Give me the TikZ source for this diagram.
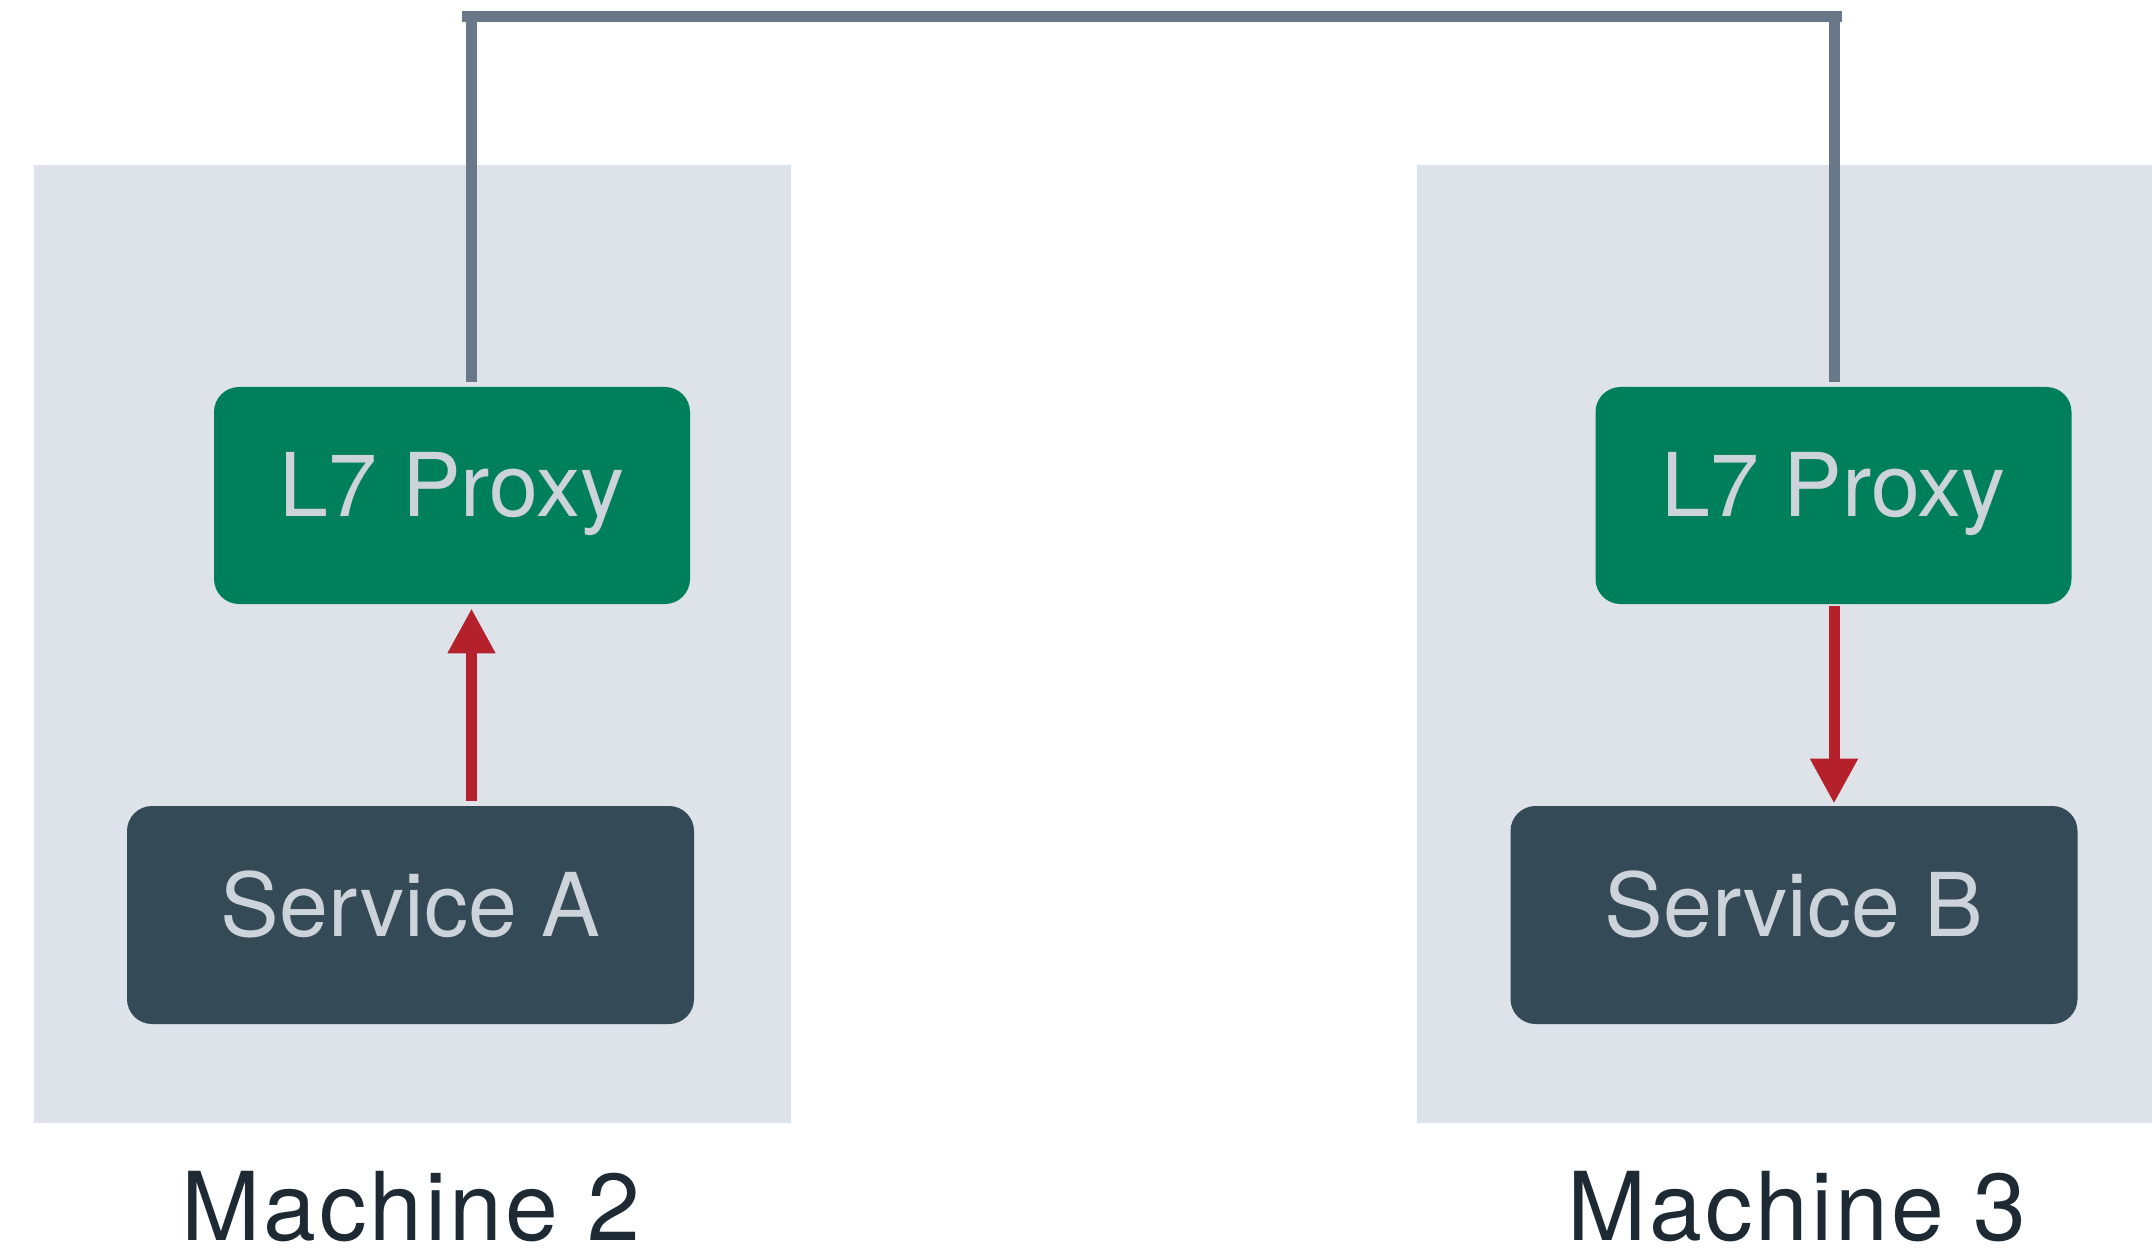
\documentclass[tikz,border=0pt]{standalone}
\usepackage{fontspec}
\setmainfont{TeX Gyre Heros}
\usetikzlibrary{arrows.meta}

\definecolor{machinebg}{HTML}{DEE3EA}
\definecolor{proxygreen}{HTML}{007F5B}
\definecolor{servicedark}{HTML}{344A56}
\definecolor{boxtext}{HTML}{CDD3DA}
\definecolor{linkgray}{HTML}{687888}
\definecolor{flowred}{HTML}{B5212A}
\definecolor{labeldark}{HTML}{1E2A33}

\tikzset{
  machine/.style={fill=machinebg, draw=none},
  boxbase/.style={rounded corners=12.5pt, inner sep=0pt, text=boxtext,
    font=\fontsize{44}{52}\selectfont, text height=31.5pt, text depth=10.5pt,
    align=center},
  proxybox/.style={boxbase, fill=proxygreen, minimum width=238pt, minimum height=108.5pt},
  servicebox/.style={boxbase, fill=servicedark, minimum width=283.5pt, minimum height=109pt},
  machinelabel/.style={anchor=base, inner sep=0pt, text=labeldark,
    font=\fontsize{47.5}{56}\selectfont\addfontfeatures{LetterSpace=3}},
  link/.style={draw=linkgray, line width=5.5pt},
  flow/.style={draw=flowred, line width=5.5pt,
    -{Triangle[width=22.5pt,length=22.5pt]}}
}

\begin{document}
\begin{tikzpicture}[x=0.5pt, y=-0.5pt]
  \useasboundingbox (0,0) rectangle (2152,1251);

  % machine areas
  \fill[machine] (34,165) rectangle (791,1123);
  \fill[machine] (1417,165) rectangle (2152,1123);

  % proxies and services
  \node[proxybox]   (pl) at (452,495.5)   {L7 Proxy};
  \node[proxybox]   (pr) at (1833.5,495.5) {L7 Proxy};
  \node[servicebox] (sa) at (410.5,915)   {Service A};
  \node[servicebox] (sb) at (1794,915)    {Service B};

  % machine captions
  \node[machinelabel] (m2) at (411,1240)  {Machine 2};
  \node[machinelabel] (m3) at (1797,1240) {Machine 3};

  % bus between the two proxies
  \coordinate (busL) at (471.5,16.5);
  \coordinate (busR) at (1834,16.5);
  \draw[link] ([xshift=-4.75pt]busL) -- ([xshift=4pt]busR);
  \draw[link] ([yshift=2.5pt]busL |- pl.north) -- ([yshift=2.75pt]busL);
  \draw[link] ([yshift=2.5pt]busR |- pr.north) -- ([yshift=2.75pt]busR);

  % request flow
  \draw[flow] ([yshift=2.5pt]busL |- sa.north) -- ([yshift=-2pt]busL |- pl.south);
  \draw[flow] ([yshift=-1pt]busR |- pr.south) -- ([yshift=1pt]busR |- sb.north);
\end{tikzpicture}
\end{document}
